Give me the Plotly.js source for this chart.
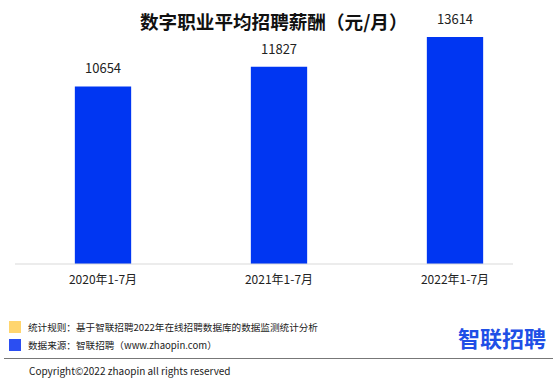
<!DOCTYPE html>
<html>
<head>
<meta charset="utf-8">
<script src="https://cdn.plot.ly/plotly-3.0.1.min.js"></script>
<style>html,body{margin:0;padding:0;background:#fff;}#chart{width:554px;height:380px;}</style>
</head>
<body>
<div id="chart"></div>
<script>
const categories = ["2020年1-7月", "2021年1-7月", "2022年1-7月"];
const salaries = [10654, 11827, 13614];
const titleText = "数字职业平均招聘薪酬（元/月）";
const note1 = "统计规则：基于智联招聘2022年在线招聘数据库的数据监测统计分析";
const note2 = "数据来源：智联招聘（www.zhaopin.com）";
const copyrightText = "Copyright©2022 zhaopin all rights reserved";
const logoText = "智联招聘";

const FONT = "'Noto Sans CJK SC', 'Noto Sans', sans-serif";
const W = 554, H = 380;
const M = {l: 15, r: 11, t: 20, b: 116};
const pw = W - M.l - M.r, ph = H - M.t - M.b;
const px = x => (x - M.l) / pw;
const py = y => (H - M.b - y) / ph;

const trace = {
  type: 'bar',
  x: categories,
  y: salaries,
  marker: {color: '#0036F2'},
  hoverinfo: 'none'
};

const annotations = salaries.map((v, i) => ({
  x: categories[i], y: v, xref: 'x', yref: 'y',
  text: String(v), showarrow: false, yanchor: 'bottom', yshift: 7,
  font: {family: FONT, size: 13, color: '#222'}
}));

function paperText(text, x, y, opts) {
  return Object.assign({
    text, x: px(x), y: py(y), xref: 'paper', yref: 'paper',
    showarrow: false, xanchor: 'left', yanchor: 'middle',
    font: {family: FONT, size: 9.6, color: '#222'}
  }, opts || {});
}

annotations.push(paperText(titleText, 274, 21, {xanchor: 'center', font: {family: FONT, size: 18.6, color: '#111', weight: 'bold'}}));
annotations.push(paperText(note1, 26, 327));
annotations.push(paperText(note2, 26, 345));
annotations.push(paperText(copyrightText, 27, 370, {font: {family: FONT, size: 10, color: '#222'}}));
annotations.push(paperText(logoText, 548, 337, {xanchor: 'right', font: {family: FONT, size: 22, color: '#1F4FE6', weight: 'bold'}}));

function rect(x0, y0, x1, y1, color) {
  return {type: 'rect', xref: 'paper', yref: 'paper', x0: px(x0), x1: px(x1), y0: py(y1), y1: py(y0),
    fillcolor: color, line: {width: 0}, layer: 'above'};
}
const shapes = [
  {type: 'line', xref: 'paper', yref: 'paper', x0: px(15), x1: px(513), y0: 0, y1: 0, line: {color: '#d9d9d9', width: 1}},
  rect(9, 321, 21, 333, '#FFD56E'),
  rect(9, 339, 21, 351, '#2B4EF2'),
  {type: 'line', xref: 'paper', yref: 'paper', x0: px(4), x1: px(553), y0: py(358.5), y1: py(358.5), line: {color: '#777', width: 1}}
];

const layout = {
  width: W, height: H,
  margin: M,
  paper_bgcolor: '#fff', plot_bgcolor: '#fff',
  showlegend: false,
  bargap: 0.68,
  xaxis: {showline: false, showgrid: false, zeroline: false, ticks: 'outside', ticklen: 5, tickcolor: 'rgba(0,0,0,0)',
    tickfont: {family: FONT, size: 12, color: '#222'}, fixedrange: true},
  yaxis: {visible: false, range: [0, 14637], fixedrange: true},
  annotations, shapes
};

Plotly.newPlot('chart', [trace], layout, {staticPlot: true, displayModeBar: false});
</script>
</body>
</html>
